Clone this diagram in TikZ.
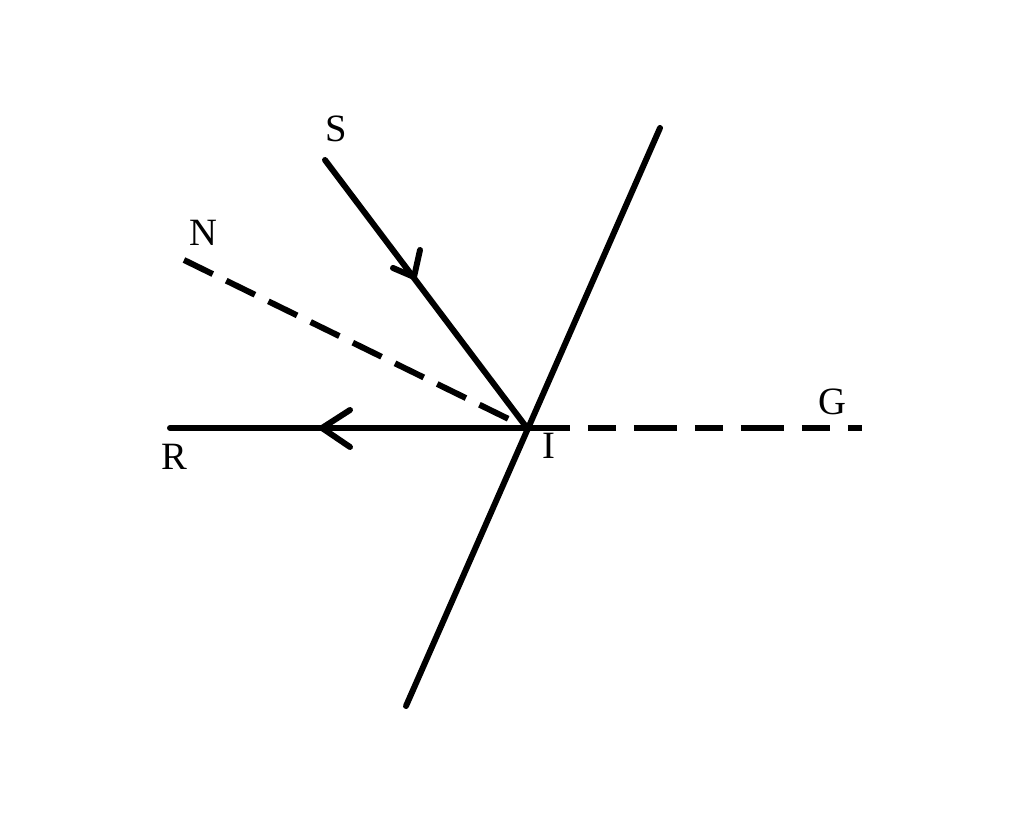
\documentclass[tikz,border=0pt]{standalone}
\usepackage{fontspec}
\setmainfont{Liberation Serif}
\begin{document}
\begin{tikzpicture}[x=0.02cm,y=-0.02cm,
  lw/.style={line width=3.4pt},
  lbl/.style={font=\fontsize{22}{24}\selectfont, inner sep=0pt}]
\useasboundingbox (0,0) rectangle (1024,813);
\coordinate (M1) at (660,128);
\coordinate (M2) at (406,706);
\coordinate (I) at (527,428);
\coordinate (S) at (325,160);
\coordinate (N) at (184,260);
\coordinate (R) at (170,428);
\coordinate (G) at (862,428);
\coordinate (Sa) at (414,277);
\coordinate (Ra) at (322,428);
\coordinate (Sa1) at (420,250);
\coordinate (Sa2) at (393,268);
\coordinate (Ra1) at (350,410);
\coordinate (Ra2) at (350,447);
\draw[lw, line cap=round] (M1) -- (M2);
\draw[lw, line cap=round] (S) -- (I);
\draw[lw, line cap=round] (R) -- (I);
\draw[lw, dash pattern=on 0.64cm off 0.3cm] (N) -- (I);
\draw[lw, dash pattern=on 0.86cm off 0.36cm on 0.56cm off 0.36cm] (I) -- (G);
\draw[lw, line cap=round] (Sa1) -- (Sa) -- (Sa2);
\draw[lw, line cap=round] (Ra1) -- (Ra) -- (Ra2);
\node[lbl] (sl) at (336,129) {S};
\node[lbl] (nl) at (203,233) {N};
\node[lbl] (rl) at (174,457) {R};
\node[lbl] (il) at (549,446) {I};
\node[lbl] (gl) at (832,402) {G};
\end{tikzpicture}
\end{document}
